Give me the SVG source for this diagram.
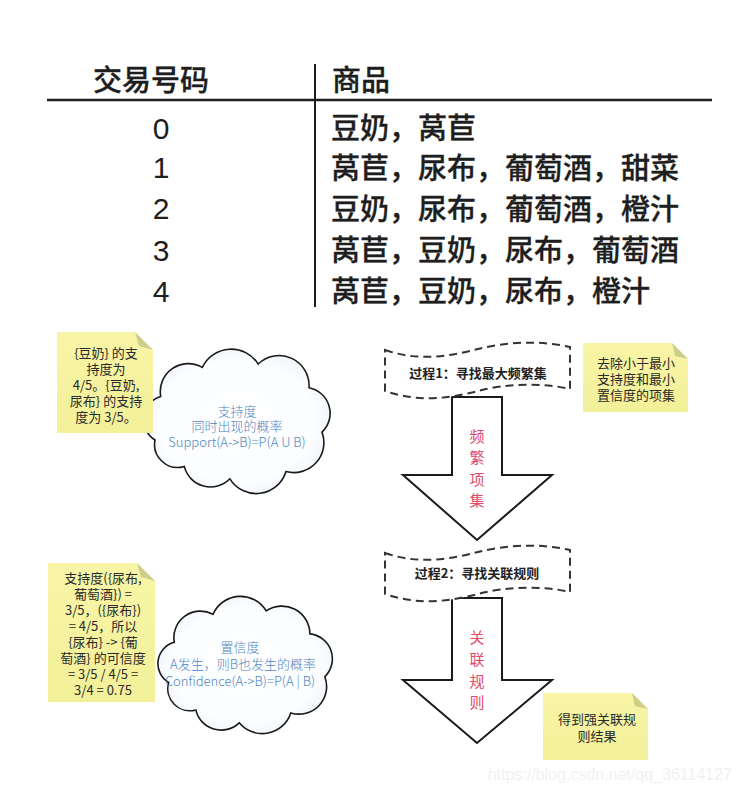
<svg xmlns="http://www.w3.org/2000/svg" width="742" height="793" viewBox="0 0 742 793">
<defs>
<radialGradient id="cloudFill" cx="50%" cy="50%" r="60%">
<stop offset="0%" stop-color="#ffffff"/>
<stop offset="70%" stop-color="#fbfdff"/>
<stop offset="100%" stop-color="#e9f1fa"/>
</radialGradient>
<linearGradient id="noteFill" x1="0" y1="0" x2="0" y2="1">
<stop offset="0%" stop-color="#f8f5a6"/>
<stop offset="100%" stop-color="#f3f09a"/>
</linearGradient>
</defs>
<style>
.tbl{font-family:"Noto Sans CJK SC","Noto Sans CJK JP",sans-serif;font-size:29px;font-weight:500;fill:#1e1e1e;stroke:#1e1e1e;stroke-width:0.3}
.num{font-family:"Liberation Sans",Arial,sans-serif;font-size:30px;fill:#1e1e1e;text-anchor:middle}
.line{stroke:#1e1e1e;fill:none}
.note{fill:url(#noteFill);stroke:none}
.fold{fill:#cfcd8a}
.nt{font-family:"Noto Sans CJK SC","Noto Sans CJK JP",sans-serif;font-size:13px;fill:#2a2a2a;text-anchor:middle}
.ntl{font-family:"Noto Sans CJK SC","Noto Sans CJK JP",sans-serif;font-size:13px;fill:#2a2a2a}
.cloud{fill:url(#cloudFill);stroke:#1a1a1a;stroke-width:1.6}
.ct{font-family:"Noto Sans CJK SC","Noto Sans CJK JP",sans-serif;font-size:13px;font-weight:300;fill:#4f86bf;text-anchor:middle}
.tape{fill:#ffffff;stroke:#333333;stroke-width:2;stroke-dasharray:8 5}
.tt{font-family:"Noto Sans CJK SC","Noto Sans CJK JP",sans-serif;font-size:13px;font-weight:bold;fill:#222;text-anchor:middle}
.arrow{fill:#ffffff;stroke:#1a1a1a;stroke-width:2;stroke-linejoin:miter}
.vt{font-family:"Noto Sans CJK SC","Noto Sans CJK JP",sans-serif;font-size:15px;fill:#e2496a;text-anchor:middle}
.wm{font-family:"Liberation Sans",Arial,sans-serif;font-size:16px;fill:#f1f1f1;text-anchor:end}
</style>
<rect width="742" height="793" fill="#ffffff"/>

<g id="table">
<line class="line" x1="47" y1="100" x2="712" y2="100" stroke-width="2.5"/>
<line class="line" x1="315" y1="64" x2="315" y2="307" stroke-width="2"/>
<text class="tbl" x="93" y="91">交易号码</text>
<text class="tbl" x="332" y="91">商品</text>
<text class="num" x="161" y="139">0</text>
<text class="num" x="161" y="178">1</text>
<text class="num" x="161" y="219">2</text>
<text class="num" x="161" y="261">3</text>
<text class="num" x="161" y="302">4</text>
<text class="tbl" x="331" y="139">豆奶，莴苣</text>
<text class="tbl" x="331" y="179">莴苣，尿布，葡萄酒，甜菜</text>
<text class="tbl" x="331" y="220">豆奶，尿布，葡萄酒，橙汁</text>
<text class="tbl" x="331" y="261">莴苣，豆奶，尿布，葡萄酒</text>
<text class="tbl" x="331" y="302">莴苣，豆奶，尿布，橙汁</text>
</g>

<g id="connectors">
<polygon id="arrow1" class="arrow" points="452,397 502,397 502,475 552,475 477,540 403,475 452,475"/>
<polygon id="arrow2" class="arrow" points="452,598 502,598 502,680 552,680 477,743 403,680 452,680"/>
<text class="vt" x="477" y="442">频</text>
<text class="vt" x="477" y="463">繁</text>
<text class="vt" x="477" y="485">项</text>
<text class="vt" x="477" y="506">集</text>
<text class="vt" x="477" y="643">关</text>
<text class="vt" x="477" y="665">联</text>
<text class="vt" x="477" y="687">规</text>
<text class="vt" x="477" y="708">则</text>
</g>

<g id="cloud-support">
<path class="cloud" d="M155,440 A24,24 0 0 1 160.7,396.5 A28,28 0 0 1 202.3,367.4 A32,32 0 0 1 258.2,364 A30,30 0 0 1 309,387.7 A26,26 0 0 1 322,432.1 A30,30 0 0 1 286,471.5 A31,31 0 0 1 229.9,478.8 A27,27 0 0 1 184.3,466.4 A23,23 0 0 1 155,440 Z"/>
<text class="ct" x="237" y="416">支持度</text>
<text class="ct" x="237" y="431">同时出现的概率</text>
<text class="ct" x="237" y="447">Support(A-&gt;B)=P(A U B)</text>
</g>

<g id="note-support">
<polygon class="note" points="57,332 135,332 153,350 153,433 57,433"/>
<polygon class="fold" points="135,332 153,350 139,346"/>
<text class="nt" x="106" y="358">{豆奶} 的支</text>
<text class="nt" x="106" y="374">持度为</text>
<text class="nt" x="106" y="390">4/5。{豆奶,</text>
<text class="nt" x="106" y="406">尿布} 的支持</text>
<text class="nt" x="106" y="422">度为 3/5。</text>
</g>

<g id="process1">
<path class="tape" d="M385,350 C420,362 450,356 478,349 C505,342 540,340 570,347 L570,389 C540,382 505,384 478,391 C450,398 420,403 385,391 Z"/>
<text class="tt" x="478" y="378">过程1：寻找最大频繁集</text>
</g>

<g id="note-prune">
<polygon class="note" points="583,343 672,343 688,359 688,412 583,412"/>
<polygon class="fold" points="672,343 688,359 675,356"/>
<text class="ntl" x="597" y="368">去除小于最小</text>
<text class="ntl" x="597" y="384">支持度和最小</text>
<text class="ntl" x="597" y="400">置信度的项集</text>
</g>

<g id="cloud-confidence">
<path class="cloud" d="M168.7,682.5 A22,22 0 0 1 174.3,642.3 A26.5,26.5 0 0 1 213,614.3 A30,30 0 0 1 266.2,610.9 A28,28 0 0 1 309.9,633.9 A25,25 0 0 1 324.8,676.7 A27.6,27.6 0 0 1 290.8,712.9 A30,30 0 0 1 239.2,722.8 A26,26 0 0 1 195.8,709.9 A22,22 0 0 1 168.7,682.5 Z"/>
<text class="ct" x="240" y="652">置信度</text>
<text class="ct" x="243" y="669">A发生，则B也发生的概率</text>
<text class="ct" x="240" y="686">Confidence(A-&gt;B)=P(A | B)</text>
</g>

<g id="note-confidence">
<polygon class="note" points="48,563 137,563 155,581 155,702 48,702"/>
<polygon class="fold" points="137,563 155,581 141,577"/>
<text class="nt" x="103" y="583">支持度({尿布,</text>
<text class="nt" x="103" y="599">葡萄酒}) =</text>
<text class="nt" x="103" y="615">3/5，({尿布})</text>
<text class="nt" x="103" y="631">= 4/5，所以</text>
<text class="nt" x="103" y="647">{尿布} -&gt; {葡</text>
<text class="nt" x="103" y="663">萄酒} 的可信度</text>
<text class="nt" x="103" y="679">= 3/5 / 4/5 =</text>
<text class="nt" x="103" y="695">3/4 = 0.75</text>
</g>

<g id="process2">
<path class="tape" transform="translate(0,203)" d="M385,350 C420,362 450,356 478,349 C505,342 540,340 570,347 L570,389 C540,382 505,384 478,391 C450,398 420,403 385,391 Z"/>
<text class="tt" x="477" y="578">过程2：寻找关联规则</text>
</g>

<g id="note-result">
<polygon class="note" points="543,693 632,693 648,709 648,760 543,760"/>
<polygon class="fold" points="632,693 648,709 635,706"/>
<text class="nt" x="597" y="724">得到强关联规</text>
<text class="nt" x="597" y="741">则结果</text>
</g>

<text class="wm" x="732" y="780">https://blog.csdn.net/qq_36114127</text>
</svg>
